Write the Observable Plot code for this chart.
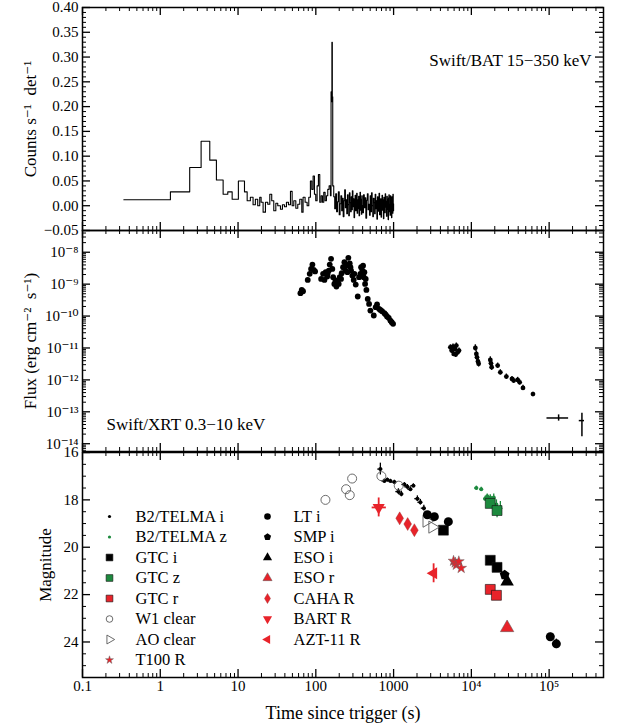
<!DOCTYPE html>
<html><head><meta charset="utf-8">
<script src="https://cdn.jsdelivr.net/npm/d3@7"></script>
<script src="https://cdn.jsdelivr.net/npm/@observablehq/plot@0.6"></script>
<style>
body{margin:0;background:#fff;}
#wrap{position:relative;width:623px;height:724px;overflow:hidden;}
#wrap svg{position:absolute;left:0;overflow:visible;}
</style></head><body><div id="wrap"></div>
<script>
// ---------------- DATA ----------------
// Swift/BAT 15-350 keV light curve (bin start s, counts/s/det), step after
const batT = [0.34,1.35,2.39,3.35,4.33,5.27,6.43,7.38,8.4,10.1,12.1,13.1,14.4,15.6,16.7,17.9,19.0,19.8,21.0,22.5,24.1,25.6,27.1,28.8,30.6,32.4,35.1,37.2,39.5,41.9,44.5,47.2,49.6,52.1,55.3,58.6,62.2,66.0,68.6,72.8,77.3,81.2,85.2,88.7,92.3,96.0,99.8,103.9,108.0,112.4,116.9,121.6,126.5,131.6,136.9,142.4,148.2,154.1,157,159,161,163,165,
170,175,180,185,190,195,200,205,210,215,220,225,230,235,240,245,250,255,260,265,270,275,280,285,290,295,300,305,310,315,320,325,330,335,340,345,350,355,360,365,370,375,380,385,390,395,
400,410,420,430,440,450,460,470,480,490,500,510,520,530,540,550,560,570,580,590,600,610,620,630,640,650,660,670,680,690,700,710,720,730,740,750,760,770,780,790,800,810,820,830,840,850,860,870,880,890,900,910,920,930,940,950,960,970,980,990,1000];
const batRate = [0.012,0.028,0.077,0.13,0.092,0.052,0.023,0.028,0.013,0.05,0.028,0.01,0.017,0.002,0.013,0.0,0.017,0.007,-0.013,0.007,0.003,0.023,0.01,-0.01,0.005,0.0,-0.007,0.002,-0.002,0.007,0.002,0.029,0.0,0.01,-0.005,0.003,0.013,-0.013,0.017,0.007,0.0,0.017,0.05,0.033,0.06,0.023,0.01,0.04,0.063,0.007,0.02,0.007,0.027,0.01,0.02,0.033,0.04,0.02,0.23,0.21,0.33,0.22,0.04,
0.018,-0.006,0.024,-0.012,0.008,0.028,-0.018,0.004,0.02,-0.01,0.015,-0.022,0.01,0.032,-0.004,0.012,-0.016,0.022,0.002,-0.02,0.026,0.006,-0.012,0.018,-0.008,0.03,-0.002,0.014,-0.024,0.009,0.021,-0.01,0.005,0.025,-0.015,0.012,-0.006,0.019,-0.02,0.007,0.027,-0.009,0.013,-0.017,0.02,0.001,
-0.014,0.022,-0.004,0.016,-0.025,0.011,0.024,-0.008,0.003,-0.019,0.02,-0.012,0.026,0.0,-0.022,0.015,0.006,-0.016,0.023,-0.006,0.01,-0.027,0.018,0.004,-0.011,0.025,-0.018,0.008,0.014,-0.023,0.002,0.021,-0.009,0.012,-0.026,0.017,0.005,-0.014,0.024,-0.003,0.009,-0.021,0.019,-0.007,0.013,-0.028,0.016,0.022,-0.012,0.003,-0.019,0.02,-0.005,0.011,-0.024,0.018,0.007,-0.015,0.023,-0.01,0.004];

// Swift/XRT 0.3-10 keV flux
const xrtT = [63.4,65.9,68.5,78.7,83.5,86.9,90.4,94.0,97.9,117,124,129,134,140,142,147,151,157,163,167,173,179,184,191,197,203,211,215,224,233,240,247,255,262,273,279,284,295,307,313,326,346,360,374,382,397,405,413,421,430,438,447,465,484,503,556,589,613,650,676,711,762,792,824,866,910,946,985];
const xrtF = [5.2e-10,6.6e-10,6.0e-10,1.36e-9,2.1e-9,3.0e-9,4.1e-9,2.8e-9,2.5e-9,1.46e-9,2.1e-9,1.36e-9,2.37e-9,1.73e-9,2.1e-9,2.67e-9,4.1e-9,6.2e-9,3.0e-9,1.65e-9,1.02e-9,1.3e-9,8.4e-10,1.15e-9,1.02e-9,1.65e-9,1.46e-9,2.2e-9,3.4e-9,4.9e-9,2.67e-9,3.8e-9,2.37e-9,6.7e-9,4.5e-9,3.4e-9,2.67e-9,1.86e-9,1.36e-9,2.1e-9,9.7e-10,4.1e-10,1.65e-9,2.1e-9,3.4e-9,2.67e-9,3.8e-9,1.65e-9,2.37e-9,1.02e-9,1.46e-9,6.6e-10,3.45e-10,2.4e-10,1.49e-10,1.04e-10,1.9e-10,2.3e-10,1.68e-10,1.56e-10,1.42e-10,1.23e-10,1.11e-10,9.7e-11,8.8e-11,7.2e-11,6.4e-11,5.7e-11];
const xrtLateT = [5370,5580,5810,5930,6170,6290,6410,6670,6940,11250,11590,11810,12160,12400,17530,17870,18230,21780,23570,28180,33290,34990,39370,41780,46100,61960];
const xrtLateF = [1.05e-11,8.3e-12,1.1e-11,6.5e-12,9.3e-12,6.2e-12,1.19e-11,7.3e-12,8.3e-12,1.0e-11,6.5e-12,5.1e-12,3.8e-12,3.2e-12,4.2e-12,3.3e-12,2.5e-12,2.8e-12,1.73e-12,1.27e-12,1.07e-12,9.5e-13,1.0e-12,8.4e-13,5.6e-13,3.6e-13];
const xrtLateErrDex = [0.08,0.08,0.08,0.08,0.08,0.08,0.08,0.08,0.08,0.1,0.1,0.1,0.1,0.1,0.1,0.1,0.1,0.08,0.08,0.08,0.08,0.08,0.08,0.08,0.08,0.06];
const xrtLastT = [132400,264000], xrtLastF = [6.4e-14,5.3e-14];
const xrtLastTLo = [93800,244000], xrtLastTHi = [178000,285000];
const xrtLastFLo = [5.1e-14,1.66e-14], xrtLastFHi = [8.0e-14,9.0e-14];

// Optical / NIR photometry (time s, magnitude, error)
const b2iT = [676,761,832,910,1024,1153,1260,1378,1505,1644,1797,2023,2210,2449];
const b2iMag = [16.7,17.2,17.15,17.2,17.25,17.65,17.75,17.35,17.45,17.55,17.4,17.95,18.1,18.35];
const b2iErr = [0.25,0.08,0.07,0.07,0.08,0.12,0.12,0.08,0.1,0.1,0.08,0.12,0.12,0.12];
const b2iDt = [50,55,60,65,75,85,90,100,110,120,130,150,160,180];
const b2zT = [11600,13400,15000,16000,16700,17500,19400,21000,23600];
const b2zMag = [17.5,17.55,17.95,17.85,18.0,17.9,17.9,18.2,18.35];
const b2zErr = [0.08,0.08,0.1,0.1,0.12,0.12,0.15,0.2,0.28];
const b2zDt = [600,600,600,600,600,700,700,800,900];
const gtciT = [4370,17500,21400], gtciMag = [19.28,20.55,20.85];
const gtczT = [17500,21400], gtczMag = [18.15,18.45], gtczErr = [0.15,0.3];
const gtcrT = [17500,21000], gtcrMag = [21.78,22.03];
const w1T = [133,245,273,293,697,1164], w1Mag = [18.0,17.55,17.8,17.1,17.0,17.4];
const aoT = [2650,3150], aoMag = [18.9,19.15];
const t100T = [5900,6200,6400,6900,7400], t100Mag = [20.58,20.65,20.75,20.6,20.88];
const ltT = [2717,3342,5058,103500,123800], ltMag = [18.63,18.71,18.92,23.78,24.08], ltErr = [0.04,0.04,0.05,0.15,0.2];
const smpT = [26800], smpMag = [21.17];
const esoiT = [28800], esoiMag = [21.45];
const esorT = [28800], esorMag = [23.4];
const cahaT = [1197,1517,1850], cahaMag = [18.78,19.02,19.28];
const bartT = [643], bartMag = [18.32], bartErr = [0.4], bartTLo = [530], bartTHi = [807];
const aztT = [3270], aztMag = [21.1], aztErr = [0.4];

// Tick values and labels
const xMajor = [0.1,1,10,100,1000,1e4,1e5];
const xTickLabels = ["0.1","1","10","100","1000","10\u2074","10\u2075"];
const yTopMajor = [-0.05,0,0.05,0.10,0.15,0.20,0.25,0.30,0.35,0.40];
const yTopLabels = ["\u22120.05","0.00","0.05","0.10","0.15","0.20","0.25","0.30","0.35","0.40"];
const yMidMajor = [1e-14,1e-13,1e-12,1e-11,1e-10,1e-9,1e-8];
const yMidLabels = ["10\u207B\u00B9\u2074","10\u207B\u00B9\u00B3","10\u207B\u00B9\u00B2","10\u207B\u00B9\u00B9","10\u207B\u00B9\u2070","10\u207B\u2079","10\u207B\u2078"];
const yBotMajor = [16,18,20,22,24];
const yBotLabels = ["16","18","20","22","24"];

const legendCol0 = ["B2/TELMA i","B2/TELMA z","GTC i","GTC z","GTC r","W1 clear","AO clear","T100 R"];
const legendCol1 = ["LT i","SMP i","ESO i","ESO r","CAHA R","BART R","AZT-11 R"];

// ---------------- LAYOUT / STYLE ----------------
const W = 623, ML = 82, MR = 20, IW = W - ML - MR;
const xDomain = [0.1, 5e5];
const topDomain = [-0.05, 0.40], midDomain = [5.7e-15, 4.8e-8], botDomain = [16, 25.5];
const RED = "#e8232a", GREEN = "#1d8a3e", GREY = "#5a5a5a";
const FONT = "'Liberation Serif', 'DejaVu Serif', serif";
const baseStyle = {fontFamily: FONT, fontSize: "15px", color: "black", background: "transparent", overflow: "visible"};

const xMinor = [];
for (const d of xMajor) for (let m = 2; m <= 9; m++) { const v = d * m; if (v <= xDomain[1]) xMinor.push(v); }
const yTopMinor = [];
for (let i = -5; i <= 40; i++) if (i % 5 !== 0) yTopMinor.push(i / 100);
const yMidMinor = [];
for (let k = -15; k <= -8; k++) for (let m = 2; m <= 9; m++) { const v = m * Math.pow(10, k); if (v >= midDomain[0] && v <= midDomain[1]) yMidMinor.push(v); }
const yBotMinor = [];
for (let v = 16.5; v < 25.5; v += 0.5) if (v % 2 !== 0) yBotMinor.push(v);

function frameTicks(yMaj, yMin, IH) {
  const L = 8, S = 4;
  return [
    Plot.ruleX(xMajor, {insetTop: IH - L, strokeWidth: 1.3}),
    Plot.ruleX(xMajor, {insetBottom: IH - L, strokeWidth: 1.3}),
    Plot.ruleX(xMinor, {insetTop: IH - S, strokeWidth: 1}),
    Plot.ruleX(xMinor, {insetBottom: IH - S, strokeWidth: 1}),
    Plot.ruleY(yMaj, {insetRight: IW - L, strokeWidth: 1.3}),
    Plot.ruleY(yMaj, {insetLeft: IW - L, strokeWidth: 1.3}),
    Plot.ruleY(yMin, {insetRight: IW - S, strokeWidth: 1}),
    Plot.ruleY(yMin, {insetLeft: IW - S, strokeWidth: 1}),
    Plot.frame({stroke: "black", strokeWidth: 1.5})
  ];
}
function yTitle(text, dx) {
  return Plot.text([text], {text: d => d, frameAnchor: "left", dx, rotate: -90, textAnchor: "middle", lineAnchor: "middle", fontSize: 17});
}

// custom marker shapes
function poly(pts) {
  let a = 0;
  for (let i = 0; i < pts.length; i++) { const p = pts[i], q = pts[(i + 1) % pts.length]; a += p[0] * q[1] - q[0] * p[1]; }
  a = Math.abs(a) / 2;
  return {draw(ctx, size) {
    const k = Math.sqrt(size / a);
    ctx.moveTo(pts[0][0] * k, pts[0][1] * k);
    for (let i = 1; i < pts.length; i++) ctx.lineTo(pts[i][0] * k, pts[i][1] * k);
    ctx.closePath();
  }};
}
const triDown = poly([[0,1],[-0.866,-0.5],[0.866,-0.5]]);
const triRight = poly([[1,0],[-0.5,-0.866],[-0.5,0.866]]);
const triLeft = poly([[-1,0],[0.5,-0.866],[0.5,0.866]]);
const thinDiamond = poly([[0,-1],[0.6,0],[0,1],[-0.6,0]]);
const pentagon = poly(d3.range(5).map(i => [Math.cos(-Math.PI/2 + i*2*Math.PI/5), Math.sin(-Math.PI/2 + i*2*Math.PI/5)]));

const styles = {
  "B2/TELMA i": {symbol: "circle", r: 2, fill: "black", lr: 1.6},
  "B2/TELMA z": {symbol: "circle", r: 2, fill: GREEN, lr: 1.6},
  "GTC i": {symbol: "square", r: 5.6, fill: "black", stroke: "#111", strokeWidth: 0.6, lr: 3.8},
  "GTC z": {symbol: "square", r: 5.6, fill: GREEN, stroke: "#111", strokeWidth: 0.6, lr: 3.8},
  "GTC r": {symbol: "square", r: 5.6, fill: RED, stroke: "#111", strokeWidth: 0.6, lr: 3.8},
  "W1 clear": {symbol: "circle", r: 4.5, fill: "none", stroke: GREY, strokeWidth: 0.9, lr: 3.3},
  "AO clear": {symbol: triRight, r: 4.5, fill: "none", stroke: GREY, strokeWidth: 0.9, lr: 3.3},
  "T100 R": {symbol: "star", r: 3.4, fill: RED, stroke: "#666", strokeWidth: 0.5, lr: 2.5},
  "LT i": {symbol: "circle", r: 4.5, fill: "black", lr: 3.3},
  "SMP i": {symbol: pentagon, r: 4.5, fill: "black", lr: 3.3},
  "ESO i": {symbol: "triangle", r: 5, fill: "black", lr: 3.4},
  "ESO r": {symbol: "triangle", r: 5, fill: RED, stroke: "#555", strokeWidth: 0.5, lr: 3.4},
  "CAHA R": {symbol: thinDiamond, r: 4, fill: RED, stroke: "#933", strokeWidth: 0.4, lr: 3.1},
  "BART R": {symbol: triDown, r: 4.5, fill: RED, lr: 3.4},
  "AZT-11 R": {symbol: triLeft, r: 4.5, fill: RED, lr: 3.4}
};
function dotStyle(name, legend) {
  const s = styles[name];
  const o = {symbol: s.symbol, r: legend ? s.lr : s.r, fill: s.fill};
  if (s.stroke) { o.stroke = s.stroke; o.strokeWidth = s.strokeWidth; }
  return o;
}

// ---------------- RECORDS ----------------
const bat = batT.map((t, i) => ({t, v: batRate[i]}));
const xrt = xrtT.map((t, i) => ({t, f: xrtF[i]}));
const xrtLate = xrtLateT.map((t, i) => ({t, f: xrtLateF[i], lo: xrtLateF[i] / Math.pow(10, xrtLateErrDex[i]), hi: xrtLateF[i] * Math.pow(10, xrtLateErrDex[i])}));
const xrtLast = xrtLastT.map((t, i) => ({t, f: xrtLastF[i], tlo: xrtLastTLo[i], thi: xrtLastTHi[i], flo: xrtLastFLo[i], fhi: xrtLastFHi[i]}));
const pts = (T, M, E, D) => T.map((t, i) => ({t, m: M[i], e: E ? E[i] : 0, dt: D ? D[i] : 0}));
const series = {
  "B2/TELMA i": pts(b2iT, b2iMag, b2iErr, b2iDt),
  "B2/TELMA z": pts(b2zT, b2zMag, b2zErr, b2zDt),
  "GTC i": pts(gtciT, gtciMag),
  "GTC z": pts(gtczT, gtczMag, gtczErr),
  "GTC r": pts(gtcrT, gtcrMag),
  "W1 clear": pts(w1T, w1Mag),
  "AO clear": pts(aoT, aoMag),
  "T100 R": pts(t100T, t100Mag),
  "LT i": pts(ltT, ltMag, ltErr),
  "SMP i": pts(smpT, smpMag),
  "ESO i": pts(esoiT, esoiMag),
  "ESO r": pts(esorT, esorMag),
  "CAHA R": pts(cahaT, cahaMag),
  "BART R": bartT.map((t, i) => ({t, m: bartMag[i], e: bartErr[i], tlo: bartTLo[i], thi: bartTHi[i]})),
  "AZT-11 R": pts(aztT, aztMag, aztErr)
};

// ---------------- PANELS ----------------
const wrap = document.getElementById("wrap");
function place(svg, top) { svg.style.top = top + "px"; wrap.appendChild(svg); }

// Panel 1: BAT
const H1 = 230, MT1 = 7, IH1 = H1 - MT1;
const p1 = Plot.plot({
  width: W, height: H1, marginLeft: ML, marginRight: MR, marginTop: MT1, marginBottom: 0,
  x: {type: "log", domain: xDomain, axis: null},
  y: {domain: topDomain},
  style: baseStyle,
  marks: [
    Plot.line(bat, {x: "t", y: "v", curve: "step-after", stroke: "black", strokeWidth: 1.1}),
    ...frameTicks(yTopMajor, yTopMinor, IH1),
    Plot.axisY({ticks: yTopMajor, tickSize: 0, tickPadding: 4, label: null, tickFormat: d => yTopLabels[yTopMajor.indexOf(d)]}),
    yTitle("Counts s\u207B\u00B9  det\u207B\u00B9", -52),
    Plot.text(["Swift/BAT 15\u2212350 keV"], {text: d => d, frameAnchor: "top-right", dx: -12, dy: 53, textAnchor: "end", lineAnchor: "middle", fontSize: 17})
  ]
});
place(p1, 0);

// Panel 2: XRT
const H2 = 221, IH2 = H2;
const p2 = Plot.plot({
  width: W, height: H2, marginLeft: ML, marginRight: MR, marginTop: 0, marginBottom: 0,
  x: {type: "log", domain: xDomain, axis: null},
  y: {type: "log", domain: midDomain},
  style: baseStyle,
  marks: [
    Plot.dot(xrt, {x: "t", y: "f", r: 2.9, fill: "black"}),
    Plot.ruleX(xrtLate, {x: "t", y1: "lo", y2: "hi", stroke: "black", strokeWidth: 1.4}),
    Plot.dot(xrtLate, {x: "t", y: "f", r: 2.4, fill: "black"}),
    Plot.ruleY(xrtLast, {y: "f", x1: "tlo", x2: "thi", stroke: "black", strokeWidth: 1.5}),
    Plot.ruleX(xrtLast, {x: "t", y1: "flo", y2: "fhi", stroke: "black", strokeWidth: 1.5}),
    ...frameTicks(yMidMajor, yMidMinor, IH2),
    Plot.axisY({ticks: yMidMajor, tickSize: 0, tickPadding: 4, label: null, tickFormat: d => yMidLabels[yMidMajor.indexOf(d)]}),
    yTitle("Flux (erg cm\u207B\u00B2  s\u207B\u00B9)", -52),
    Plot.text(["Swift/XRT 0.3\u221210 keV"], {text: d => d, frameAnchor: "bottom-left", dx: 24, dy: -27, textAnchor: "start", lineAnchor: "middle", fontSize: 17})
  ]
});
place(p2, 230);

// Panel 3: optical
const H3 = 273, MT3 = 1, MB3 = 47, IH3 = H3 - MT3 - MB3;
const optMarks = [];
for (const name of Object.keys(series)) {
  const data = series[name];
  const col = styles[name].fill === "none" ? styles[name].stroke : styles[name].fill;
  const eb = (name === "BART R" || name === "AZT-11 R") ? 1.8 : 1.3;
  if (data.some(d => d.e > 0)) optMarks.push(Plot.ruleX(data.filter(d => d.e > 0), {x: "t", y1: d => d.m - d.e, y2: d => d.m + d.e, stroke: col, strokeWidth: eb}));
  if (data.some(d => d.dt > 0)) optMarks.push(Plot.ruleY(data.filter(d => d.dt > 0), {y: "m", x1: d => d.t - d.dt, x2: d => d.t + d.dt, stroke: col, strokeWidth: 1.3}));
  if (data.some(d => d.tlo)) optMarks.push(Plot.ruleY(data.filter(d => d.tlo), {y: "m", x1: "tlo", x2: "thi", stroke: col, strokeWidth: 1.8}));
}
for (const name of Object.keys(series)) optMarks.push(Plot.dot(series[name], {x: "t", y: "m", ...dotStyle(name, false)}));

const p3 = Plot.plot({
  width: W, height: H3, marginLeft: ML, marginRight: MR, marginTop: MT3, marginBottom: MB3,
  x: {type: "log", domain: xDomain},
  y: {domain: botDomain, reverse: true},
  style: baseStyle,
  marks: [
    ...optMarks,
    ...frameTicks(yBotMajor, yBotMinor, IH3),
    Plot.axisX({ticks: xMajor, tickSize: 0, tickPadding: 3, label: null, tickFormat: d => xTickLabels[xMajor.indexOf(d)]}),
    Plot.axisY({ticks: yBotMajor, tickSize: 0, tickPadding: 4, label: null, tickFormat: d => yBotLabels[yBotMajor.indexOf(d)]}),
    yTitle("Magnitude", -37),
    Plot.text(["Time since trigger (s)"], {text: d => d, frameAnchor: "bottom", dy: 36, textAnchor: "middle", lineAnchor: "middle", fontSize: 18})
  ]
});
place(p3, 451);

// Legend (inside bottom panel)
const legendItems = [
  ...legendCol0.map((name, i) => ({name, col: 0, row: i})),
  ...legendCol1.map((name, i) => ({name, col: 1, row: i}))
];
const leg = Plot.plot({
  width: 320, height: 170, margin: 0,
  x: {domain: [0, 1], range: [10, 168], axis: null},
  y: {domain: [0, 7], range: [10, 153.5], axis: null},
  style: {...baseStyle, fontSize: "16px"},
  marks: [
    ...legendItems.map(d => Plot.dot([d], {x: "col", y: "row", ...dotStyle(d.name, true)})),
    Plot.text(legendItems, {x: "col", y: "row", text: "name", dx: 26, textAnchor: "start", lineAnchor: "middle", fontSize: 16.5})
  ]
});
leg.style.left = "99px";
place(leg, 505.7);
</script></body></html>
